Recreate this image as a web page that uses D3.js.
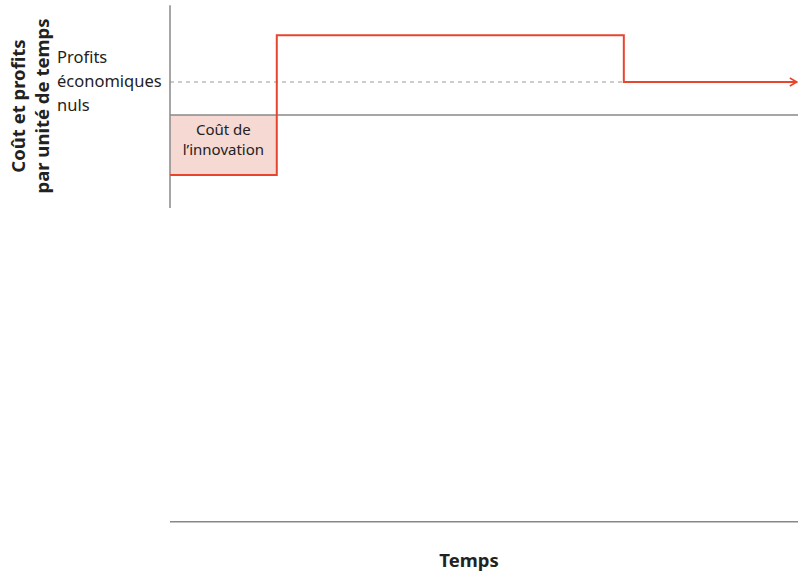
<!DOCTYPE html>
<html>
<head>
<meta charset="utf-8">
<script src="https://cdn.jsdelivr.net/npm/d3@7.9.0/dist/d3.min.js"></script>
<style>
  body { margin: 0; background: #fff; }
  svg { display: block; font-family: "Noto Sans", "Open Sans", sans-serif; }
</style>
</head>
<body>
<svg id="chart" width="810" height="573"></svg>
<script>
// time points of the profit path (innovation ends, rents end, arrow end)
const times = [0, 1, 1, 4.25, 4.25, 5.87];
const profits = [-1, -1, 1.33, 1.33, 0.55, 0.55];
const normalProfit = 0.55;
const innovationCost = -1;
const innovationEnd = 1;
const rentEnd = 4.25;
const yAxisRange = [-1.55, 1.83];
const timeAxisLevel = -6.78;
const normalLabel = ['Profits', 'économiques', 'nuls'];
const costLabel = ['Coût de', 'l\u2019innovation'];
const yTitle = ['Coût et profits', 'par unité de temps'];
const xTitle = 'Temps';

const svg = d3.select('#chart');
const red = '#e8452f';
const grey = '#888';

const x = d3.scaleLinear().domain([0, 5.9]).range([170, 800]);
const y = d3.scaleLinear().domain([-1, 0]).range([175, 115]);

svg.append('marker')
    .attr('id', 'arrow')
    .attr('viewBox', '0 0 10 10')
    .attr('refX', 9).attr('refY', 5)
    .attr('markerWidth', 10).attr('markerHeight', 10)
    .attr('markerUnits', 'userSpaceOnUse')
    .attr('orient', 'auto')
    .append('path')
    .attr('d', 'M2,1 L9,5 L2,9')
    .attr('fill', 'none')
    .attr('stroke', red)
    .attr('stroke-width', 1.6);

// shaded innovation cost
svg.append('rect')
    .attr('x', x(0))
    .attr('y', y(0))
    .attr('width', x(innovationEnd) - x(0))
    .attr('height', y(innovationCost) - y(0))
    .attr('fill', '#f5d9d2');

// dashed normal profit line
svg.append('line')
    .attr('x1', x(0)).attr('x2', x(rentEnd))
    .attr('y1', y(normalProfit)).attr('y2', y(normalProfit))
    .attr('stroke', '#999')
    .attr('stroke-width', 1)
    .attr('stroke-dasharray', '4,4');

// vertical axis
svg.append('line')
    .attr('x1', x(0)).attr('x2', x(0))
    .attr('y1', y(yAxisRange[1])).attr('y2', y(yAxisRange[0]))
    .attr('stroke', grey).attr('stroke-width', 1.5);

// zero line
svg.append('line')
    .attr('x1', x(0)).attr('x2', x(5.9) - 2)
    .attr('y1', y(0)).attr('y2', y(0))
    .attr('stroke', grey).attr('stroke-width', 1.5);

// time axis at the bottom
svg.append('line')
    .attr('x1', x(0)).attr('x2', x(5.9) - 2)
    .attr('y1', y(timeAxisLevel)).attr('y2', y(timeAxisLevel))
    .attr('stroke', grey).attr('stroke-width', 1.5);

// profit path
const line = d3.line()
    .x((d, i) => x(times[i]))
    .y(d => y(d));

svg.append('path')
    .attr('d', line(profits))
    .attr('fill', 'none')
    .attr('stroke', red)
    .attr('stroke-width', 2)
    .attr('marker-end', 'url(#arrow)');

// labels
svg.append('text')
    .attr('x', 57).attr('y', y(normalProfit) - 19)
    .attr('font-size', 16.5).attr('fill', '#222')
    .selectAll('tspan').data(normalLabel).join('tspan')
    .attr('x', 57)
    .attr('dy', (d, i) => i === 0 ? 0 : 24)
    .text(d => d);

svg.append('text')
    .attr('text-anchor', 'middle')
    .attr('font-size', 15).attr('fill', '#222')
    .selectAll('tspan').data(costLabel).join('tspan')
    .attr('x', (x(0) + x(innovationEnd)) / 2)
    .attr('y', (d, i) => y(-0.2) + 8 + i * 20)
    .text(d => d);

svg.append('text')
    .attr('x', 469).attr('y', 567)
    .attr('text-anchor', 'middle')
    .attr('font-size', 18.5).attr('font-weight', 'bold').attr('fill', '#222')
    .text(xTitle);

svg.append('g')
    .attr('transform', 'translate(0,106) rotate(-90)')
    .append('text')
    .attr('text-anchor', 'middle')
    .attr('font-size', 18.5).attr('font-weight', 'bold').attr('fill', '#222')
    .selectAll('tspan').data(yTitle).join('tspan')
    .attr('x', 0)
    .attr('y', (d, i) => 25 + i * 24)
    .text(d => d);
</script>
</body>
</html>
